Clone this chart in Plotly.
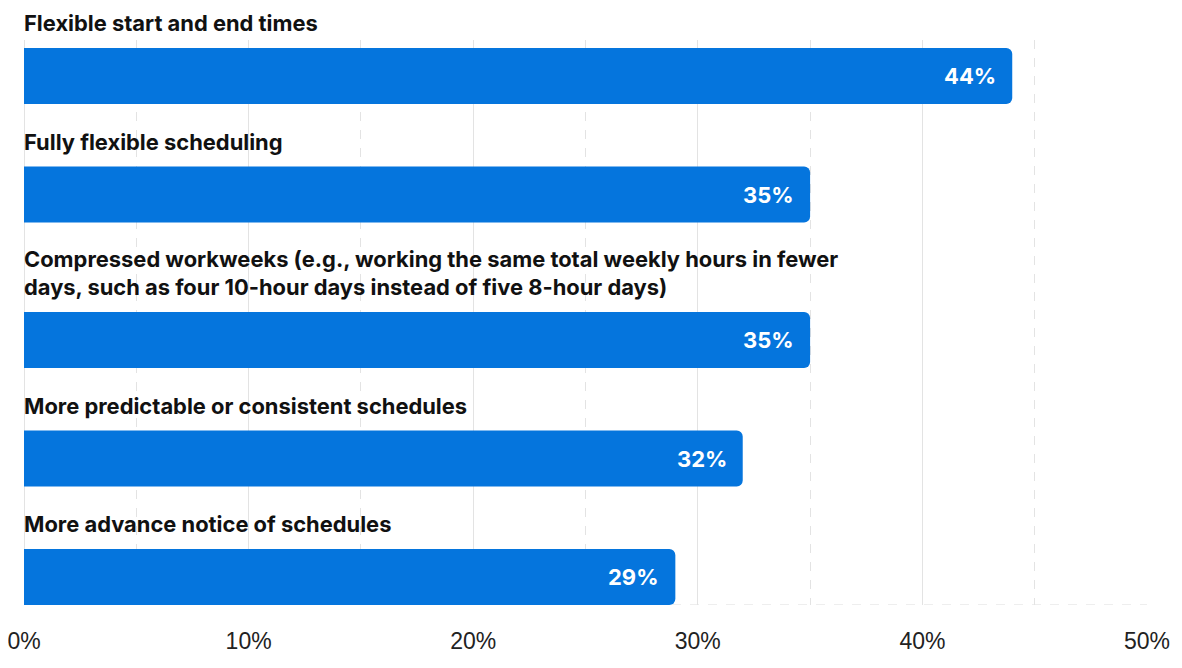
import plotly.graph_objects as go

categories = [
    "Flexible start and end times",
    "Fully flexible scheduling",
    "Compressed workweeks (e.g., working the same total weekly hours in fewer<br>days, such as four 10-hour days instead of five 8-hour days)",
    "More predictable or consistent schedules",
    "More advance notice of schedules",
]
values = [44, 35, 35, 32, 29]
value_labels = ["44%", "35%", "35%", "32%", "29%"]
tick_vals = [0, 10, 20, 30, 40, 50]
tick_text = ["0%", "10%", "20%", "30%", "40%", "50%"]

BAR_COLOR = "#0575DD"
LINE_H = 27
BAR_H = 56
LABEL_TO_BAR = 25
GAP = 37.5
PAGE_OFF = 8  # default body margin of the html page

# layout of blocks (y units = pixels from top of page)
pos = 23
centers, tops = [], []
for c in categories:
    n = c.count("<br>") + 1
    top = pos + (n - 1) * LINE_H + LABEL_TO_BAR
    tops.append(top)
    centers.append(top + BAR_H / 2)
    pos = top + BAR_H + GAP

fig = go.Figure()
fig.add_trace(go.Bar(
    x=values, y=centers, orientation="h", width=BAR_H,
    marker=dict(color=BAR_COLOR, line=dict(width=0)),
    hoverinfo="skip",
))

for c, t in zip(categories, tops):
    fig.add_annotation(
        x=0, y=t, xref="x", yref="y", text=c, showarrow=False,
        xanchor="left", yanchor="bottom", align="left", yshift=10, xshift=-2,
        font=dict(family="Inter", size=21.9, color="#111111", weight=700),
    )
for v, lab, cy in zip(values, value_labels, centers):
    fig.add_annotation(
        x=v, y=cy, xref="x", yref="y", text=lab, showarrow=False,
        xanchor="right", yanchor="middle", xshift=-14,
        font=dict(family="Inter", size=22, color="white", weight=700),
    )

bottom = tops[-1] + BAR_H
fig.add_shape(type="line", x0=0, x1=50, y0=bottom, y1=bottom, xref="x", yref="y",
              line=dict(color="#dcdcdc", width=1, dash="dash"), layer="below")

W, H = 1182 - PAGE_OFF, 668 - PAGE_OFF
fig.update_layout(
    width=W, height=H,
    margin=dict(l=24 - PAGE_OFF, r=35, t=40 - PAGE_OFF, b=668 - int(round(bottom)), autoexpand=False),
    plot_bgcolor="white", paper_bgcolor="white",
    showlegend=False,
    barcornerradius=6,
    xaxis=dict(
        range=[0, 50], tickvals=tick_vals, ticktext=tick_text, automargin=False,
        ticklabeloverflow="allow",
        showgrid=True, gridcolor="#e3e3e3", gridwidth=1,
        zeroline=True, zerolinecolor="#e3e3e3", zerolinewidth=1,
        showline=False, ticks="outside", ticklen=15, tickcolor="rgba(0,0,0,0)",
        tickfont=dict(family="Liberation Sans", size=23, color="#222222"),
        minor=dict(dtick=5, tick0=5, showgrid=True, gridcolor="#e3e3e3", griddash="dash", gridwidth=1),
        fixedrange=True,
    ),
    yaxis=dict(range=[bottom, 40], showgrid=False, zeroline=False, showticklabels=False,
               fixedrange=True, automargin=False),
)

fig.write_html("out.html")
